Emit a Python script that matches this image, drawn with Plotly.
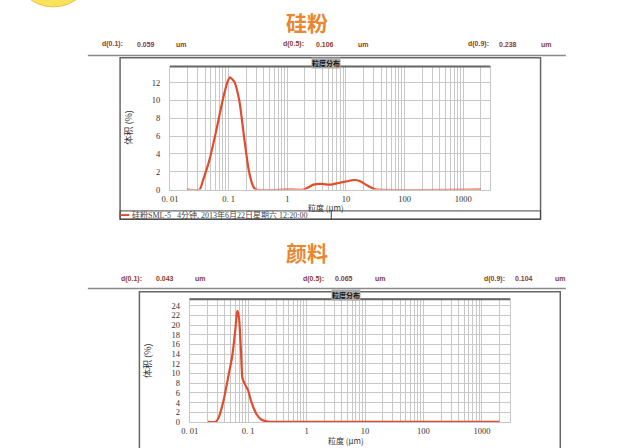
import plotly.graph_objects as go

W, H = 627, 448

# ---------------- data ----------------
silicon_x = [0.0196, 0.032, 0.036, 0.047, 0.061, 0.079, 0.096, 0.105, 0.125, 0.152, 0.18, 0.22, 0.26, 0.29,
             1.0, 1.9, 2.3, 2.8, 3.9, 5.4, 7.5, 10.4, 13.5, 17.5, 22.7, 29.5, 33.6, 2000]
silicon_y = [0, 0, 0.9, 3.3, 6.5, 10.0, 12.1, 12.6, 12.1, 10.0, 6.3, 2.2, 0.4, 0,
             0, 0, 0.26, 0.55, 0.63, 0.55, 0.74, 0.93, 1.07, 0.93, 0.48, 0.1, 0, 0]

pigment_x = [0.0205, 0.0278, 0.0316, 0.038, 0.046, 0.053, 0.06, 0.064, 0.0656, 0.07, 0.0755, 0.08, 0.088,
             0.1, 0.114, 0.138, 0.167, 0.215, 0.3, 2000]
pigment_y = [0, 0, 1.0, 4.4, 9.5, 13.3, 18.7, 22.4, 22.9, 21.4, 14.6, 9.0, 7.8,
             6.5, 4.1, 1.7, 0.5, 0.05, 0, 0]

titles = ["硅粉", "颜料"]
d_names = ["d(0.1):", "d(0.5):", "d(0.9):"]
silicon_d = ["0.059", "0.106", "0.238"]
pigment_d = ["0.043", "0.065", "0.104"]
unit = "um"

x_tick_vals = [0.01, 0.1, 1, 10, 100, 1000]
x_tick_text = ["0. 01", "0. 1", "1", "10", "100", "1000"]
silicon_y_ticks = [0, 2, 4, 6, 8, 10, 12]
pigment_y_ticks = [0, 2, 4, 6, 8, 10, 12, 14, 16, 18, 20, 22, 24]

legend_text = "硅粉SML-5   4分钟, 2013年6月22日星期六 12:20:00"
plot_title = "粒度分布"
x_title = "粒度 (μm)"
y_title = "体积 (%)"

# ---------------- helpers ----------------
def px(x):
    return x / W

def py(y):
    return 1 - y / H

RED = "#E24B2C"
GRID = "#c8c8c8"
SERIF = "Liberation Serif, DejaVu Serif, Noto Sans CJK SC, serif"
CJK = "Noto Sans CJK SC, sans-serif"

# grid positions (all log minor ticks)
grid_vals = []
for e in range(-2, 4):
    for m in range(1, 10):
        v = m * 10 ** e
        if v <= 2000:
            grid_vals.append(round(v, 6))
grid_text = []
for v in grid_vals:
    if v in x_tick_vals:
        grid_text.append(x_tick_text[x_tick_vals.index(v)])
    else:
        grid_text.append("")

fig = go.Figure()
fig.add_trace(go.Scatter(x=silicon_x, y=silicon_y, mode="lines",
                         line=dict(color=RED, width=2.2, shape="spline", smoothing=0.6),
                         xaxis="x", yaxis="y", showlegend=False, hoverinfo="skip"))
fig.add_trace(go.Scatter(x=pigment_x, y=pigment_y, mode="lines",
                         line=dict(color=RED, width=2.2, shape="spline", smoothing=0.5),
                         xaxis="x2", yaxis="y2", showlegend=False, hoverinfo="skip"))

# plot areas (pixels)
p1 = dict(l=163.3, r=488.3, t=67.3, b=191.7)
p2 = dict(l=183.3, r=508.3, t=302.7, b=426.7)

def xax(p, anchor, rng):
    return dict(type="log", domain=[px(p["l"]), px(p["r"])], range=rng, anchor=anchor,
                tickmode="array", tickvals=grid_vals, ticktext=grid_text,
                showgrid=True, gridcolor=GRID, gridwidth=1,
                showline=True, linecolor=GRID, mirror=True, zeroline=False,
                ticks="outside", ticklen=1, tickcolor="rgba(0,0,0,0)",
                tickfont=dict(family=SERIF, size=8.5, color="#333"))

def yax(p, anchor, rng, ticks):
    return dict(domain=[py(p["b"]), py(p["t"])], range=rng, anchor=anchor,
                tickmode="array", tickvals=ticks,
                showgrid=True, gridcolor=GRID, gridwidth=1,
                showline=True, linecolor=GRID, mirror=True, zeroline=False,
                ticks="outside", ticklen=7, tickcolor="rgba(0,0,0,0)",
                tickfont=dict(family=SERIF, size=8.5, color="#333"))

fig.update_layout(
    width=W, height=H, margin=dict(l=0, r=0, t=0, b=0),
    paper_bgcolor="white", plot_bgcolor="white",
    xaxis=xax(p1, "y", [-2, 3.46]),
    yaxis=yax(p1, "x", [0, 13.8], silicon_y_ticks),
    xaxis2=xax(p2, "y2", [-2, 3.48]),
    yaxis2=yax(p2, "x2", [0, 25.3], pigment_y_ticks),
)

shapes = []
ann = []

# yellow circle top-left
shapes.append(dict(type="circle", xref="paper", yref="paper",
                   x0=px(5), x1=px(85), y0=py(7), y1=py(-73),
                   fillcolor="#F9E35A", line=dict(color="#F2C04A", width=1)))

def section(title, ty, dvals, dy, sep_y, box, p, dx):
    ann.append(dict(text="<b>%s</b>" % title, x=px(302), y=py(ty), xref="paper", yref="paper",
                    showarrow=False, font=dict(family=CJK, size=21, color="#E9862F"),
                    xanchor="center", yanchor="middle"))
    items = []
    for i in range(3):
        items += [(d_names[i], dx[i * 3]), (dvals[i], dx[i * 3 + 1]), (unit, dx[i * 3 + 2])]
    for t, xx in items:
        ann.append(dict(text="<b>%s</b>" % t, x=px(xx), y=py(dy), xref="paper", yref="paper",
                        showarrow=False, font=dict(family="Liberation Sans, Arial", size=7, color="#8B3A2E"),
                        xanchor="center", yanchor="middle"))
    shapes.append(dict(type="line", xref="paper", yref="paper", x0=px(80), x1=px(565),
                       y0=py(sep_y), y1=py(sep_y), line=dict(color="#8a8a8a", width=1.5)))
    shapes.append(dict(type="rect", xref="paper", yref="paper", x0=px(box[0]), x1=px(box[1]),
                       y0=py(box[3]), y1=py(box[2]), line=dict(color="#666", width=1.5)))
    # thick top border of plot
    shapes.append(dict(type="line", xref="paper", yref="paper", x0=px(p["l"]), x1=px(p["r"]),
                       y0=py(p["t"]), y1=py(p["t"]), line=dict(color="#666", width=2)))
    cx = (p["l"] + p["r"]) / 2 - 4
    ann.append(dict(text="<b>%s</b>" % plot_title, x=px(cx), y=py(p["t"] - 4), xref="paper", yref="paper",
                    showarrow=False, font=dict(family=CJK, size=7, color="#111"),
                    bgcolor="#aaaaaa", borderpad=0, xanchor="center", yanchor="middle"))
    ann.append(dict(text=y_title, x=px(p["l"] - 43), y=py((p["t"] + p["b"]) / 2), xref="paper", yref="paper",
                    showarrow=False, textangle=-90, font=dict(family=CJK, size=9, color="#333"),
                    xanchor="center", yanchor="middle"))
    ann.append(dict(text=x_title, x=px(cx), y=py(p["b"] + 18.5), xref="paper", yref="paper",
                    showarrow=False, font=dict(family=CJK, size=8, color="#333"),
                    xanchor="center", yanchor="middle"))

section(titles[0], 22, silicon_d, 45, 56, (112.7, 539.3, 58.3, 221.7), p1,
        [105, 139, 175, 289, 321, 360, 476, 506, 545])
section(titles[1], 255, pigment_d, 282, 291.7, (132.3, 559.3, 295, 470), p2,
        [124.5, 158.5, 194.5, 308.5, 340, 377, 493, 522.5, 560])

# legend row of chart 1
shapes.append(dict(type="rect", xref="paper", yref="paper", x0=px(112.7), x1=px(539.3),
                   y0=py(221.7), y1=py(213.3), line=dict(color="#444", width=1)))
shapes.append(dict(type="line", xref="paper", yref="paper", x0=px(327), x1=px(327),
                   y0=py(221.7), y1=py(213.3), line=dict(color="#444", width=1)))
shapes.append(dict(type="line", xref="paper", yref="paper", x0=px(113), x1=px(122),
                   y0=py(217.5), y1=py(217.5), line=dict(color=RED, width=2)))
ann.append(dict(text=legend_text, x=px(123), y=py(217.5), xref="paper", yref="paper",
                showarrow=False, font=dict(family=SERIF, size=8, color="#444"),
                xanchor="left", yanchor="middle"))

fig.update_layout(shapes=shapes, annotations=ann)
fig.write_html("out.html", config={"displayModeBar": False},
               post_script="document.body.style.margin='0';document.body.style.overflow='hidden';")
